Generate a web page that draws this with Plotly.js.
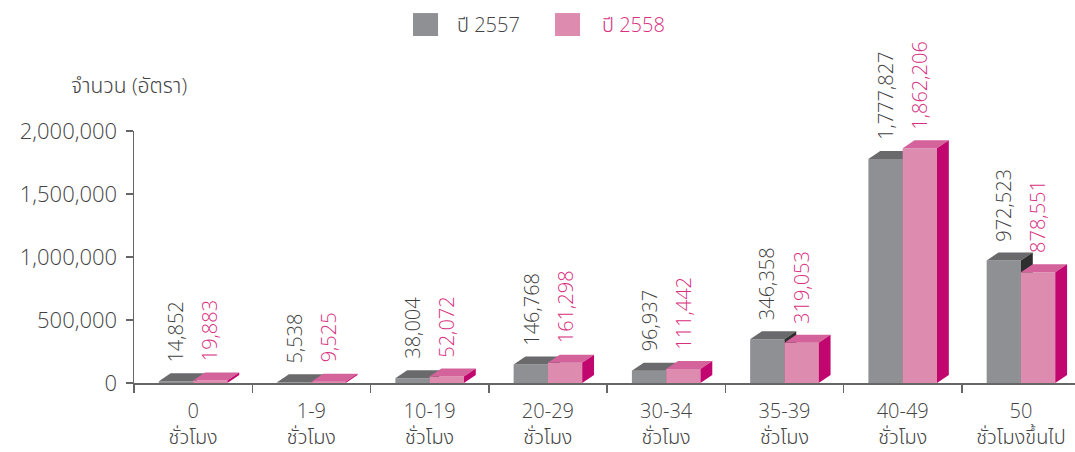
<!DOCTYPE html>
<html><head><meta charset="utf-8">
<script src="https://cdn.plot.ly/plotly-3.0.1.min.js"></script>
<style>body{margin:0;background:#fff}#chart{width:1075px;height:452px}</style>
</head><body><div id="chart"></div>
<script>
// ---- data ----
const rangeLabels = ['0', '1-9', '10-19', '20-29', '30-34', '35-39', '40-49', '50'];
const unitLabels = ['ชั่วโมง', 'ชั่วโมง', 'ชั่วโมง', 'ชั่วโมง', 'ชั่วโมง', 'ชั่วโมง', 'ชั่วโมง', 'ชั่วโมงขึ้นไป'];
const seriesNames = ['ปี 2557', 'ปี 2558'];
const values2557 = [14852, 5538, 38004, 146768, 96937, 346358, 1777827, 972523];
const values2558 = [19883, 9525, 52072, 161298, 111442, 319053, 1862206, 878551];
const yTickVals = [0, 500000, 1000000, 1500000, 2000000];

// ---- style ----
const FONT = '"Open Sans", "Noto Sans Thai", sans-serif';
const FW = 300;
const W = 0.29, DX = 0.1, DY = 63500;
const styles = [
  {front: '#8f9094', top: '#6a6a6c', side: '#2e2e2e', text: '#3f3f3f', off: -W, xa: 'x', vals: values2557},
  {front: '#de8bb0', top: '#d4639b', side: '#c2066f', text: '#d8307f', off: 0, xa: 'x2', vals: values2558}
];

const idx = rangeLabels.map((_, i) => i);
const traces = [];
const annotations = [];
styles.forEach((s, k) => {
  traces.push({type: 'bar', x: idx, y: s.vals, width: W, offset: s.off, xaxis: s.xa, yaxis: 'y',
    marker: {color: s.front, line: {width: 0}}, hoverinfo: 'y', name: seriesNames[k], showlegend: false});
  const tx = [], ty = [], sx = [], sy = [];
  s.vals.forEach((v, i) => {
    const x0 = i + s.off, x1 = x0 + W;
    tx.push(x0, x1, x1 + DX, x0 + DX, x0, null);
    ty.push(v, v, v + DY, v + DY, v, null);
    sx.push(x1, x1, x1 + DX, x1 + DX, x1, null);
    sy.push(0, v, v + DY, DY, 0, null);
    annotations.push({x: x0 + W / 2, y: v, xref: 'x', yref: 'y', text: v.toLocaleString('en-US'),
      textangle: -90, showarrow: false, xanchor: 'center', yanchor: 'bottom', yshift: 17,
      font: {family: FONT, size: 20, weight: FW, color: s.text}});
  });
  traces.push({type: 'scatter', mode: 'lines', x: tx, y: ty, fill: 'toself', fillcolor: s.top,
    line: {width: 0, color: s.top}, xaxis: s.xa, yaxis: 'y', hoverinfo: 'skip', showlegend: false});
  traces.push({type: 'scatter', mode: 'lines', x: sx, y: sy, fill: 'toself', fillcolor: s.side,
    line: {width: 0, color: s.side}, xaxis: s.xa, yaxis: 'y', hoverinfo: 'skip', showlegend: false});
});

// legend (drawn manually)
const shapes = [
  {type: 'rect', xref: 'paper', yref: 'paper', x0: 0.2965, x1: 0.3231, y0: 1.377, y1: 1.468, fillcolor: '#8f9094', line: {width: 0}},
  {type: 'rect', xref: 'paper', yref: 'paper', x0: 0.4474, x1: 0.4740, y0: 1.377, y1: 1.468, fillcolor: '#de8bb0', line: {width: 0}}
];
annotations.push(
  {xref: 'paper', yref: 'paper', x: 0.341, y: 1.421, xanchor: 'left', yanchor: 'middle', showarrow: false,
   text: seriesNames[0], font: {family: FONT, size: 20, weight: FW, color: '#444'}},
  {xref: 'paper', yref: 'paper', x: 0.4952, y: 1.421, xanchor: 'left', yanchor: 'middle', showarrow: false,
   text: seriesNames[1], font: {family: FONT, size: 20, weight: FW, color: '#d8307f'}},
  {xref: 'paper', yref: 'paper', x: -0.0053, y: 1.183, xanchor: 'center', yanchor: 'middle', showarrow: false,
   text: 'จำนวน (อัตรา)', font: {family: FONT, size: 21, weight: FW, color: '#444'}}
);

const xRange = [-0.5, 7.457];
const layout = {
  width: 1075, height: 452,
  margin: {l: 134, r: 0, t: 131, b: 69, pad: 0},
  paper_bgcolor: '#fff', plot_bgcolor: '#fff',
  showlegend: false,
  font: {family: FONT, weight: FW, color: '#444'},
  xaxis: {type: 'linear', range: xRange, tickvals: idx.map(i => i - 0.5), ticktext: idx.map(() => ''),
    ticks: 'outside', ticklen: 8, tickwidth: 1.5, tickcolor: '#666', showline: true, linecolor: '#666', linewidth: 1.5,
    showgrid: false, zeroline: false, fixedrange: true},
  xaxis2: {type: 'linear', overlaying: 'x', anchor: 'y', side: 'bottom', range: xRange, matches: 'x',
    tickvals: idx, ticktext: rangeLabels.map((r, i) => r + '<br>' + unitLabels[i]),
    ticks: '', showline: false, showgrid: false, zeroline: false, ticklabelstandoff: 14,
    tickfont: {family: FONT, size: 20, weight: FW, color: '#444'}},
  yaxis: {range: [0, 2000000], tickvals: yTickVals, ticktext: yTickVals.map(v => v.toLocaleString('en-US')),
    ticks: 'outside', ticklen: 7, tickwidth: 1.5, tickcolor: '#666', showline: true, linecolor: '#666', linewidth: 1.5,
    showgrid: false, zeroline: false, ticklabelstandoff: 4,
    tickfont: {family: FONT, size: 22, weight: FW, color: '#444'}},
  shapes: shapes,
  annotations: annotations
};
Plotly.newPlot('chart', traces, layout, {staticPlot: true});
</script></body></html>
